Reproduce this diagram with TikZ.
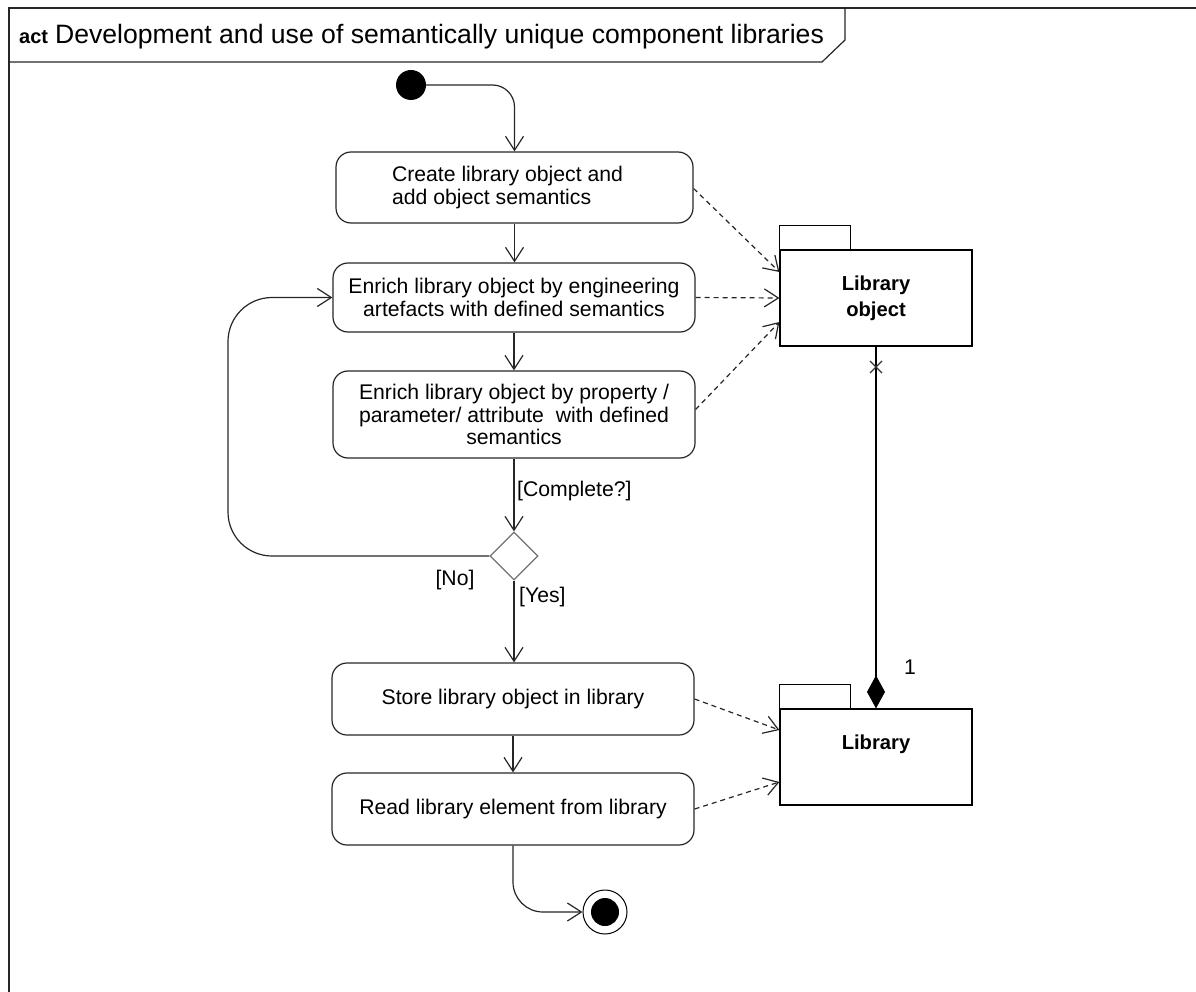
\documentclass[tikz,border=0pt]{standalone}
\usepackage{fontspec}
\setmainfont{Liberation Sans}
\usetikzlibrary{arrows.meta,shapes.geometric,calc}

\begin{document}
\begin{tikzpicture}[x=1pt,y=-1pt,
  txt/.style={font=\fontsize{21.2}{22.5}\selectfont, text=black},
  action/.style={draw=black!85, line width=1.2pt, rounded corners=15pt,
    txt, align=center, inner sep=2pt},
  pkgbody/.style={draw=black, line width=1.2pt, minimum width=192pt, inner sep=0pt,
    font=\fontsize{20.2}{26}\selectfont\bfseries, align=center},
  flow/.style={draw=black!85, line width=1.2pt,
    -{Straight Barb[length=14pt,width=18pt,line width=1.2pt]}},
  dep/.style={draw=black!85, line width=1.2pt, dash pattern=on 5pt off 4pt,
    -{Straight Barb[length=14pt,width=18pt,line width=1.2pt]}},
  lbl/.style={txt}
]
\useasboundingbox (0,0) rectangle (1196,992);

% frame and title tab
\draw[line width=1.2pt, black!85] (9,992) -- (9,8) -- (1196,8);
\draw[line width=1.2pt, black!85] (9,62) -- (822,62) -- (845,40) -- (845,8);
\node[anchor=base west, inner sep=0pt] (title) at (19,44)
  {{\fontsize{20}{22}\selectfont\bfseries act}\hspace{7pt}{\fontsize{26.6}{30}\selectfont Development and use of semantically unique component libraries}};

% initial and final nodes
\node[circle, fill=black, minimum size=30pt, inner sep=0pt] (start) at (411,85) {};
\node[circle, draw=black, line width=1pt, minimum size=44pt, inner sep=0pt,
  path picture={\fill[black] (path picture bounding box.center) circle (14pt);}]
  (final) at (605,912) {};

% actions
\node[action, minimum width=357pt, minimum height=71pt, align=left] (a1) at (514.5,187.5)
  {Create library object and\hspace*{14pt}\\add object semantics};
\node[action, minimum width=362pt, minimum height=69pt] (a2) at (514,297.5)
  {Enrich library object by engineering\\artefacts with defined semantics};
\node[action, minimum width=362pt, minimum height=87pt] (a3) at (514,414.5)
  {Enrich library object by property /\\parameter/ attribute\ \ with defined\\semantics};
\node[action, minimum width=362pt, minimum height=72pt] (a4) at (513,699)
  {Store library object in library};
\node[action, minimum width=362pt, minimum height=72pt] (a5) at (513,809)
  {Read library element from library};

% decision
\node[diamond, draw=black!55, line width=1.2pt, minimum width=48pt, minimum height=48pt,
  inner sep=0pt] (dec) at (514,556) {};

% packages
\node[pkgbody, minimum height=96pt] (lobj) at (876,298) {Library\\object};
\draw[line width=1.2pt] (lobj.north west) rectangle ++(71,-24);
\node[pkgbody, minimum height=96pt] (lib) at (876,757) {};
\draw[line width=1.2pt] (lib.north west) rectangle ++(71,-24);
\node[font=\fontsize{20.2}{24}\selectfont\bfseries, inner sep=0pt] (libtext) at (876,744) {Library};

% control flow
\draw[flow, rounded corners=22pt] (start.east) -- (514.5,85) -- (a1.north);
\draw[flow] (a1.south) -- (a1.south |- a2.north);
\draw[flow] (a2.south) -- (a2.south |- a3.north);
\draw[flow] (a3.south) -- (dec.north);
\draw[flow, rounded corners=44pt] (dec.west) -- (228,556) -- (228,297.5) -- (a2.west);
\draw[flow] (dec.south) -- (dec.south |- a4.north);
\draw[flow] (a4.south) -- (a4.south |- a5.north);
\draw[flow, rounded corners=30pt] (a5.south) -- (513,912) -- (final.west);

% guards
\node[lbl, anchor=west, inner sep=0pt] (gc) at (517,491) {[Complete?]};
\node[lbl, inner sep=0pt] (gno) at (455,580) {[No]};
\node[lbl, anchor=west, inner sep=0pt] (gyes) at (519,597) {[Yes]};

% dependencies
\draw[dep] ($(a1.east)+(0,1)$) -- ($(lobj.west)+(0,-26)$);
\draw[dep] (a2.east) -- (lobj.west);
\draw[dep] ($(a3.east)+(0,-5)$) -- ($(lobj.west)+(0,24)$);
\draw[dep] (a4.east) -- ($(lib.west)+(0,-27)$);
\draw[dep] (a5.east) -- ($(lib.west)+(0,25)$);

% composition between the packages
\draw[line width=1.2pt, -{Diamond[length=33pt,width=18pt]}] (lobj.south) -- (lib.north);
\coordinate (xm) at (876,367);
\draw[line width=1.1pt, black!80] ($(xm)+(-6,-6)$) -- ($(xm)+(6,6)$)
  ($(xm)+(-6,6)$) -- ($(xm)+(6,-6)$);
\node[lbl, inner sep=0pt] (mult) at (910,667) {1};
\end{tikzpicture}
\end{document}
